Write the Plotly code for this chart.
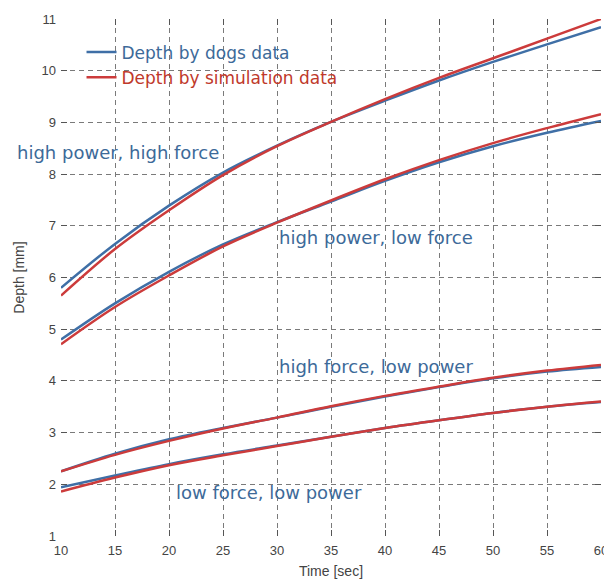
import plotly.graph_objects as go

time_sec = [10, 15, 20, 25, 30, 35, 40, 45, 50, 55, 60]

# high power, high force
hphf_dogs = [5.80, 6.65, 7.39, 8.03, 8.55, 9.01, 9.42, 9.81, 10.17, 10.51, 10.84]
hphf_sim = [5.65, 6.55, 7.30, 7.98, 8.54, 9.01, 9.45, 9.86, 10.24, 10.62, 11.00]
# high power, low force
hplf_dogs = [4.80, 5.50, 6.11, 6.64, 7.07, 7.47, 7.87, 8.23, 8.54, 8.80, 9.03]
hplf_sim = [4.71, 5.43, 6.04, 6.60, 7.06, 7.49, 7.90, 8.27, 8.60, 8.89, 9.16]
# high force, low power
hflp_dogs = [2.25, 2.59, 2.87, 3.09, 3.29, 3.50, 3.70, 3.88, 4.05, 4.18, 4.27]
hflp_sim = [2.25, 2.57, 2.84, 3.08, 3.29, 3.51, 3.71, 3.89, 4.06, 4.20, 4.31]
# low force, low power
lflp_dogs = [1.94, 2.17, 2.39, 2.58, 2.75, 2.92, 3.09, 3.24, 3.38, 3.50, 3.59]
lflp_sim = [1.86, 2.13, 2.37, 2.56, 2.74, 2.92, 3.09, 3.24, 3.38, 3.50, 3.60]

labels = ["high power, high force", "high power, low force",
          "high force, low power", "low force, low power"]

y_ticks = list(range(1, 12))

BLUE = "#3f6fa6"
RED = "#cc3b3b"
TEXT_BLUE = "#3d6a99"
FONT = "DejaVu Sans, Liberation Sans, Arial"
AXFONT = "Liberation Sans, Arial"

fig = go.Figure()
pairs = [(hphf_dogs, hphf_sim), (hplf_dogs, hplf_sim),
         (hflp_dogs, hflp_sim), (lflp_dogs, lflp_sim)]
for i, (d, s) in enumerate(pairs):
    fig.add_trace(go.Scatter(
        x=time_sec, y=d, mode="lines", line=dict(color=BLUE, width=2.5, shape="spline"),
        name='<span style="color:#3d6a99">Depth by dogs data</span>',
        legendgroup="dogs", showlegend=(i == 0)))
    fig.add_trace(go.Scatter(
        x=time_sec, y=s, mode="lines", line=dict(color=RED, width=2.5, shape="spline"),
        name='<span style="color:#c0392b">Depth by simulation data</span>',
        legendgroup="sim", showlegend=(i == 0)))

label_pos = [(15.3, 8.42), (39.2, 6.78), (39.2, 4.28), (29.3, 1.85)]
for t, (lx, ly) in zip(labels, label_pos):
    fig.add_annotation(x=lx, y=ly, text=t, showarrow=False, xanchor="center", yanchor="middle",
                       font=dict(family=FONT, size=18, color=TEXT_BLUE))

axis_common = dict(
    showgrid=True, gridcolor="#7a7a7a", griddash="5px,4px", gridwidth=1,
    ticks="inside", ticklen=6, tickcolor="#555", mirror="ticks",
    showline=False, zeroline=False, automargin=False,
    ticklabeloverflow="allow",
    tickfont=dict(family=AXFONT, size=13, color="#444"),
)

fig.update_xaxes(range=[10, 60], tickvals=time_sec, ticklabelstandoff=5, **axis_common,
                 title=dict(text="Time [sec]", standoff=14,
                            font=dict(family=AXFONT, size=14, color="#444")))
fig.update_yaxes(range=[1, 11], tickvals=y_ticks, ticklabelstandoff=4, **axis_common,
                 title=dict(text="Depth [mm]", standoff=13,
                            font=dict(family=AXFONT, size=14, color="#444")))

fig.update_layout(
    width=604, height=579,
    margin=dict(l=61, r=3, t=19, b=43),
    plot_bgcolor="white", paper_bgcolor="white",
    legend=dict(x=0.038, y=0.97, xanchor="left", yanchor="top",
                bgcolor="rgba(255,255,255,0)", tracegroupgap=0,
                font=dict(family=FONT, size=17)),
)

fig.write_html("out.html", config={"displayModeBar": False},
               post_script="document.body.style.margin='0';")
